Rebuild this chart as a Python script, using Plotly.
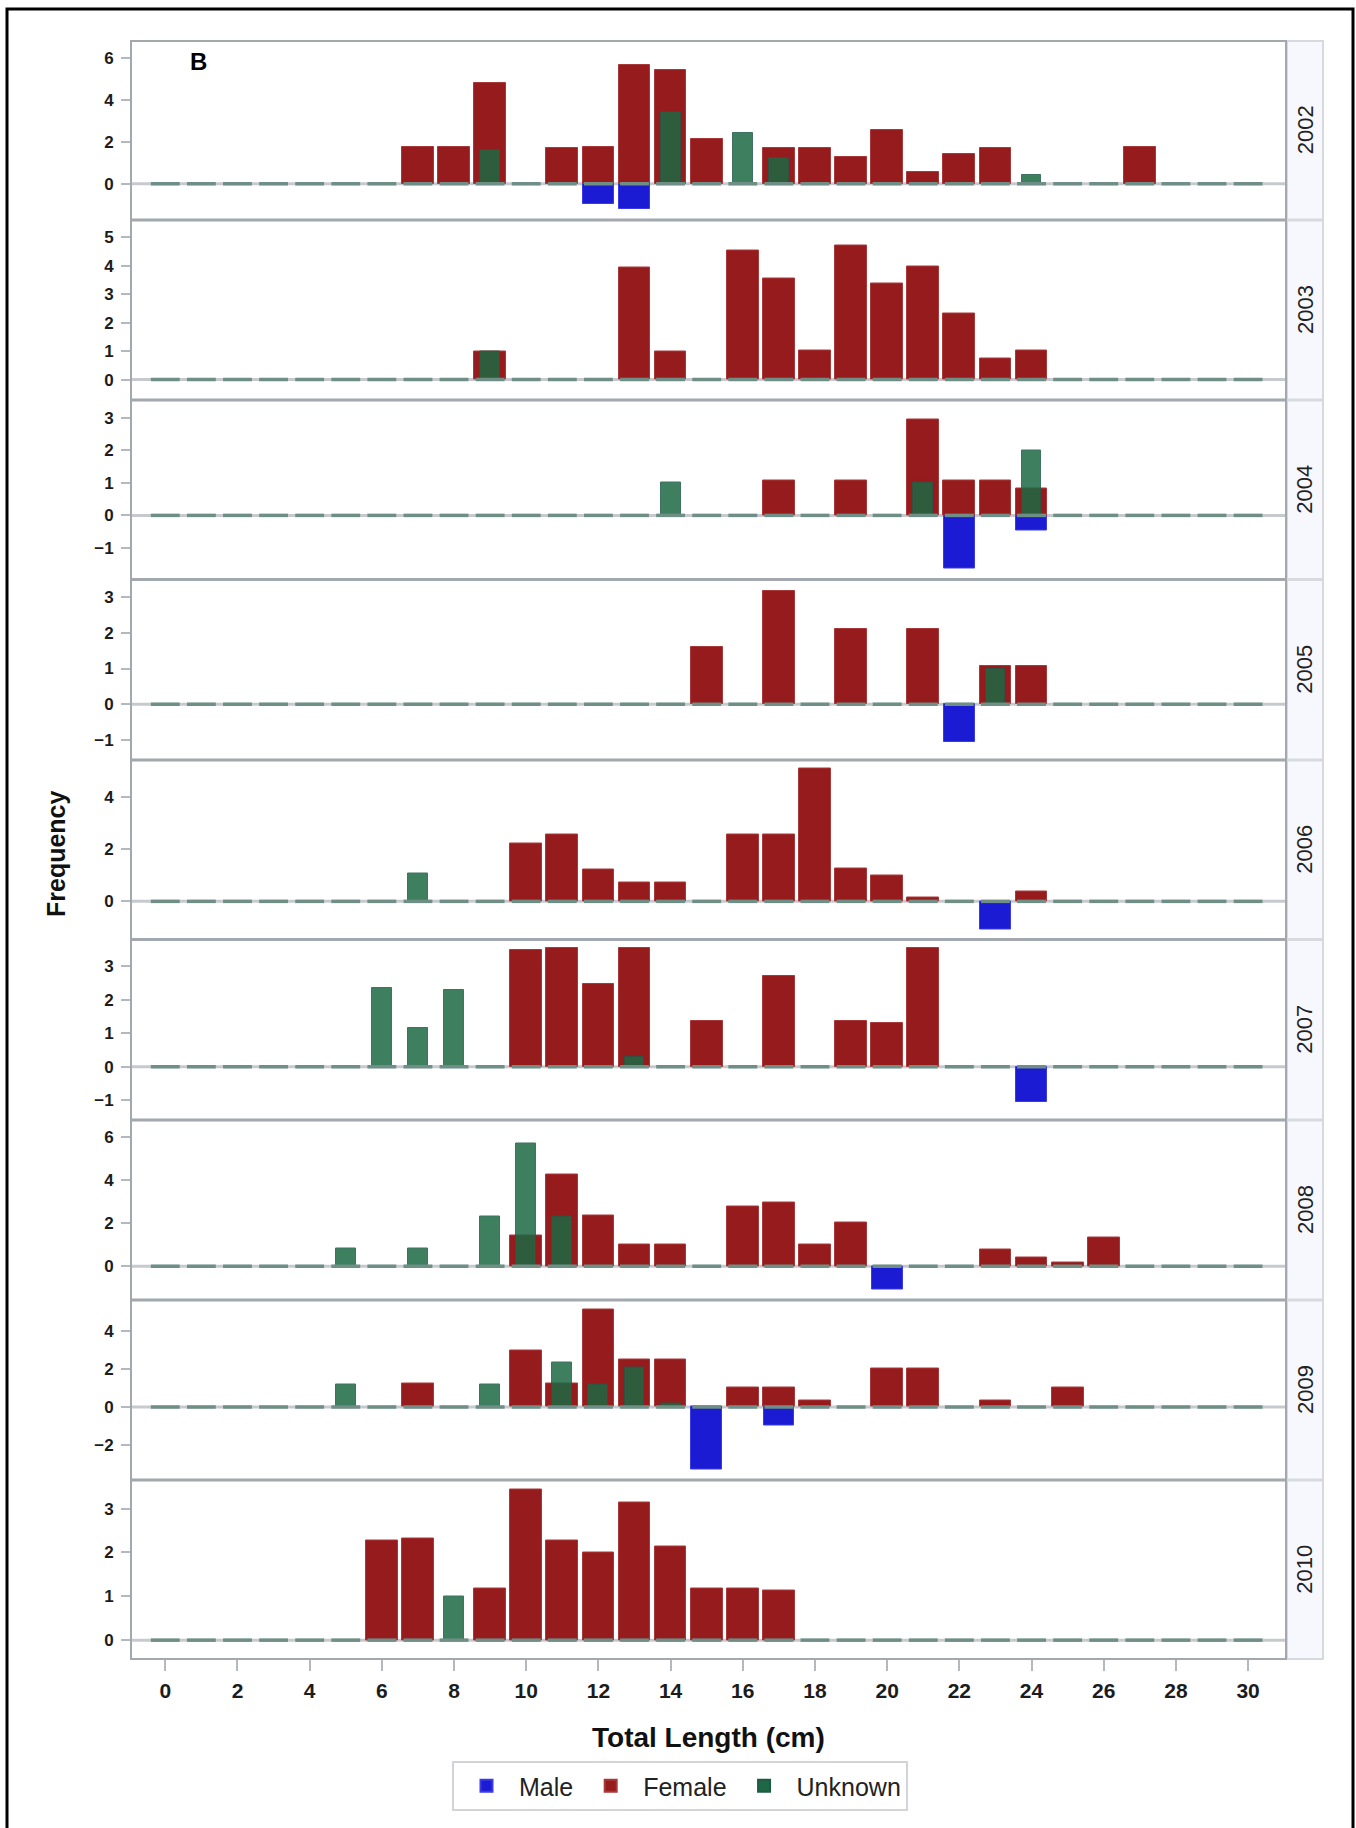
import plotly.graph_objects as go

# ---------------------------------------------------------------------------
# Length-frequency data: (total length in cm, frequency). Males are plotted
# downward, so their frequencies are stored as negative values.
# ---------------------------------------------------------------------------
LENGTH_BINS = list(range(0, 31))
YEARS = [2002, 2003, 2004, 2005, 2006, 2007, 2008, 2009, 2010]
SEXES = ["Male", "Female", "Unknown"]

MALE_2002 = [(12, -0.94), (13, -1.22)]
FEMALE_2002 = [(7, 1.76), (8, 1.76), (9, 4.81), (11, 1.71), (12, 1.76), (13, 5.65),
               (14, 5.44), (15, 2.11), (17, 1.71), (18, 1.71), (19, 1.29), (20, 2.56),
               (21, 0.57), (22, 1.41), (23, 1.71), (27, 1.73)]
UNKNOWN_2002 = [(9, 1.63), (14, 3.40), (16, 2.44), (17, 1.24), (24, 0.44)]

MALE_2003 = []
FEMALE_2003 = [(9, 1.00), (13, 3.95), (14, 0.98), (16, 4.55), (17, 3.56), (18, 1.02),
               (19, 4.70), (20, 3.36), (21, 3.99), (22, 2.31), (23, 0.74), (24, 1.02)]
UNKNOWN_2003 = [(9, 1.00)]

MALE_2004 = [(22, -1.65), (24, -0.47)]
FEMALE_2004 = [(17, 1.08), (19, 1.06), (21, 2.95), (22, 1.08), (23, 1.06), (24, 0.83)]
UNKNOWN_2004 = [(14, 1.00), (21, 1.00), (24, 2.00)]

MALE_2005 = [(22, -1.05)]
FEMALE_2005 = [(15, 1.60), (17, 3.18), (19, 2.10), (21, 2.10), (23, 1.06), (24, 1.06)]
UNKNOWN_2005 = [(23, 1.00)]

MALE_2006 = [(23, -1.06)]
FEMALE_2006 = [(10, 2.20), (11, 2.54), (12, 1.23), (13, 0.72), (14, 0.72), (16, 2.54),
               (17, 2.54), (18, 5.10), (19, 1.26), (20, 0.98), (21, 0.14), (24, 0.37)]
UNKNOWN_2006 = [(7, 1.05)]

MALE_2007 = [(24, -1.05)]
FEMALE_2007 = [(10, 3.49), (11, 3.54), (12, 2.47), (13, 3.54), (15, 1.38), (17, 2.71),
               (19, 1.38), (20, 1.32), (21, 3.54)]
UNKNOWN_2007 = [(6, 2.34), (7, 1.15), (8, 2.29), (13, 0.30)]

MALE_2008 = [(20, -1.07)]
FEMALE_2008 = [(10, 1.41), (11, 4.29), (12, 2.35), (13, 1.03), (14, 1.03), (16, 2.78),
               (17, 2.98), (18, 1.03), (19, 2.04), (23, 0.76), (24, 0.40), (25, 0.17),
               (26, 1.34)]
UNKNOWN_2008 = [(5, 0.84), (7, 0.84), (9, 2.32), (10, 5.69), (11, 2.32)]

MALE_2009 = [(15, -3.28), (17, -0.95)]
FEMALE_2009 = [(7, 1.25), (10, 2.96), (11, 1.25), (12, 5.14), (13, 2.51), (14, 2.51),
               (16, 1.02), (17, 1.02), (18, 0.32), (20, 2.04), (21, 2.04), (23, 0.32),
               (25, 1.02)]
UNKNOWN_2009 = [(5, 1.16), (9, 1.19), (11, 2.35), (12, 1.16), (13, 2.09), (14, 0.16)]

MALE_2010 = []
FEMALE_2010 = [(6, 2.27), (7, 2.31), (9, 1.17), (10, 3.44), (11, 2.27), (12, 2.00),
               (13, 3.14), (14, 2.13), (15, 1.17), (16, 1.17), (17, 1.13)]
UNKNOWN_2010 = [(8, 1.00)]

X_TICKS = list(range(0, 31, 2))
X_TITLE = "Total Length (cm)"
Y_TITLE = "Frequency"
PANEL_TAG = "B"

# ---------------------------------------------------------------------------
# Layout settings (page pixels)
# ---------------------------------------------------------------------------
W, H = 1356, 1828
PLOT_LEFT, PLOT_RIGHT = 131, 1286
STRIP_LEFT, STRIP_RIGHT = 1287, 1323
PANEL_EDGES = [41, 220, 400, 579.5, 760, 939.5, 1120, 1300, 1480, 1659]
Y_RANGES = [(-1.70, 6.80), (-0.70, 5.59), (-1.96, 3.54), (-1.55, 3.48), (-1.44, 5.39),
            (-1.58, 3.79), (-1.55, 6.78), (-3.82, 5.61), (-0.43, 3.64)]
Y_DTICKS = [2, 1, 1, 1, 2, 1, 2, 2, 1]
X_RANGE = (-0.95, 31.05)

STYLE = {
    "Male": dict(color="#1b1bd4", line="#3a3ae6", width=0.85, opacity=1.0),
    "Female": dict(color="#961b1c", line="#a8393a", width=0.88, opacity=1.0),
    "Unknown": dict(color="rgb(28,105,67)", line="#1f5a48", width=0.55, opacity=0.85),
}
FONT = "Liberation Sans, Arial, Helvetica, sans-serif"
AXIS_GREY = "#b4b9be"
FRAME_GREY = "#a2a8ae"


def px_x(p):
    return p / W


def px_y(p):
    return 1 - p / H


series = {
    2002: (MALE_2002, FEMALE_2002, UNKNOWN_2002),
    2003: (MALE_2003, FEMALE_2003, UNKNOWN_2003),
    2004: (MALE_2004, FEMALE_2004, UNKNOWN_2004),
    2005: (MALE_2005, FEMALE_2005, UNKNOWN_2005),
    2006: (MALE_2006, FEMALE_2006, UNKNOWN_2006),
    2007: (MALE_2007, FEMALE_2007, UNKNOWN_2007),
    2008: (MALE_2008, FEMALE_2008, UNKNOWN_2008),
    2009: (MALE_2009, FEMALE_2009, UNKNOWN_2009),
    2010: (MALE_2010, FEMALE_2010, UNKNOWN_2010),
}

fig = go.Figure()
shapes = []
annotations = []
layout_axes = {}

for i, year in enumerate(YEARS):
    yname = "y" if i == 0 else f"y{i + 1}"
    ykey = "yaxis" if i == 0 else f"yaxis{i + 1}"
    top = PANEL_EDGES[i] + (0 if i == 0 else 0.5)
    bottom = PANEL_EDGES[i + 1] - (0 if i == len(YEARS) - 1 else 0.5)

    layout_axes[ykey] = dict(
        domain=[px_y(bottom), px_y(top)],
        range=list(Y_RANGES[i]),
        anchor="x",
        dtick=Y_DTICKS[i],
        tick0=0,
        ticks="outside",
        ticklen=9,
        tickwidth=2,
        tickcolor=AXIS_GREY,
        ticklabelstandoff=4,
        tickfont=dict(family=FONT, size=17, color="#1c1c1c", weight="bold"),
        showgrid=False,
        zeroline=False,
        showline=False,
        fixedrange=True,
    )

    # bars: male, female, unknown (unknown drawn last, semi-transparent)
    for sex, pts in zip(SEXES, series[year]):
        st = STYLE[sex]
        fig.add_trace(go.Bar(
            x=[p[0] for p in pts],
            y=[p[1] for p in pts],
            width=st["width"],
            name=sex,
            legendgroup=sex,
            showlegend=(year == YEARS[0]),
            marker=dict(color=st["color"], opacity=st["opacity"],
                        line=dict(color=st["line"], width=1)),
            xaxis="x",
            yaxis=yname,
            hovertemplate=f"{year} {sex}<br>%{{x}} cm: %{{y}}<extra></extra>",
        ))

    # zero-count bins shown as short dashes along the baseline
    dash_x, dash_y = [], []
    for b in LENGTH_BINS:
        dash_x += [b - 0.4, b + 0.4, None]
        dash_y += [0, 0, None]
    fig.add_trace(go.Scatter(
        x=dash_x, y=dash_y, mode="lines",
        line=dict(color="#6f8f86", width=3.5),
        xaxis="x", yaxis=yname, showlegend=False, hoverinfo="skip",
    ))

    # grey reference line at zero
    shapes.append(dict(type="line", xref="x domain", yref=yname, x0=0, x1=1, y0=0, y1=0,
                       line=dict(color="#c6cacf", width=3), layer="below"))
    # panel frame
    shapes.append(dict(type="rect", xref="paper", yref="paper",
                       x0=px_x(PLOT_LEFT), x1=px_x(PLOT_RIGHT),
                       y0=px_y(bottom), y1=px_y(top),
                       line=dict(color=FRAME_GREY, width=2), layer="above"))
    # strip with year label
    shapes.append(dict(type="rect", xref="paper", yref="paper",
                       x0=px_x(STRIP_LEFT), x1=px_x(STRIP_RIGHT),
                       y0=px_y(bottom), y1=px_y(top),
                       fillcolor="#f7f8fd", line=dict(color="#d6d9dd", width=2),
                       layer="below"))
    annotations.append(dict(
        text=str(year), xref="paper", yref="paper",
        x=px_x((STRIP_LEFT + STRIP_RIGHT) / 2), y=px_y((top + bottom) / 2),
        textangle=-90, showarrow=False, xanchor="center", yanchor="middle",
        font=dict(family=FONT, size=22, color="#222222"),
    ))

# outer black frame
shapes.append(dict(type="rect", xref="paper", yref="paper",
                   x0=px_x(7), x1=px_x(1353), y0=px_y(1840), y1=px_y(9),
                   line=dict(color="#000000", width=3), layer="above"))

# titles and panel tag
annotations.append(dict(text=f"<b>{X_TITLE}</b>", xref="paper", yref="paper",
                        x=px_x((PLOT_LEFT + PLOT_RIGHT) / 2), y=px_y(1737),
                        showarrow=False, xanchor="center", yanchor="middle",
                        font=dict(family=FONT, size=28, color="#111111")))
annotations.append(dict(text=f"<b>{Y_TITLE}</b>", xref="paper", yref="paper",
                        x=px_x(56), y=px_y((PANEL_EDGES[0] + PANEL_EDGES[-1]) / 2 + 4),
                        textangle=-90, showarrow=False, xanchor="center", yanchor="middle",
                        font=dict(family=FONT, size=25, color="#111111")))
annotations.append(dict(text=f"<b>{PANEL_TAG}</b>", xref="paper", yref="paper",
                        x=px_x(199), y=px_y(61), showarrow=False,
                        xanchor="center", yanchor="middle",
                        font=dict(family=FONT, size=24, color="#000000")))

fig.update_layout(
    width=W,
    height=H,
    margin=dict(l=0, r=0, t=0, b=0),
    paper_bgcolor="white",
    plot_bgcolor="rgba(0,0,0,0)",
    barmode="overlay",
    bargap=0,
    font=dict(family=FONT, color="#222222"),
    xaxis=dict(
        domain=[px_x(PLOT_LEFT), px_x(PLOT_RIGHT)],
        range=list(X_RANGE),
        anchor=f"y{len(YEARS)}",
        tickvals=X_TICKS,
        ticks="outside",
        ticklen=11,
        tickwidth=2,
        tickcolor=AXIS_GREY,
        ticklabelstandoff=2,
        tickfont=dict(family=FONT, size=21, color="#1c1c1c", weight="bold"),
        showgrid=False,
        zeroline=False,
        showline=False,
        fixedrange=True,
    ),
    legend=dict(
        orientation="h",
        x=px_x(680), xanchor="center",
        y=px_y(1761), yanchor="top",
        bordercolor="#d2d4d8", borderwidth=2,
        font=dict(family=FONT, size=25, color="#222222"),
        itemwidth=55,
        itemsizing="constant",
        traceorder="normal",
        bgcolor="white",
    ),
    shapes=shapes,
    annotations=annotations,
    **layout_axes,
)

fig.write_html("out.html")
